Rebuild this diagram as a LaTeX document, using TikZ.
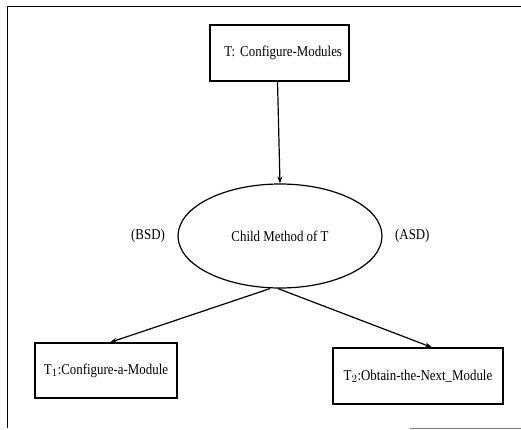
\documentclass[tikz,border=0pt]{standalone}
\usepackage{fontspec}
\setmainfont{Liberation Serif}[FakeStretch=0.86]
\usetikzlibrary{arrows.meta,positioning,shapes.geometric}
\tikzset{
    block/.style = {draw, rectangle, line width=1.2pt,
        minimum height=56pt, align=center, font=\fontsize{15}{17}\selectfont},
    method/.style = {draw, ellipse, line width=1.2pt,
        minimum width=204pt, minimum height=104pt, font=\fontsize{15}{17}\selectfont},
    tag/.style = {font=\fontsize{15}{17}\selectfont, node distance=9pt},
    arrow/.style = {draw, line width=1.2pt, -{Stealth[length=7pt,width=5pt]}}
}
\begin{document}
\begin{tikzpicture}[x=1pt,y=-1pt]
    \useasboundingbox (0,0) rectangle (521,430);
    % frame of the scanned figure
    \draw[line width=1pt] (7,428) -- (7,7) -- (521,7);
    \draw[line width=0.8pt,gray] (410,428) -- (521,428);
    % nodes
    \node [block, minimum width=139pt, text width=125pt, align=right] (task) at (279.5,53) {T: Configure-Modules};
    \node [method] (child) at (280,236) {Child Method of T};
    \node [tag, left=of child] (bsd) {(BSD)};
    \node [tag, right=of child] (asd) {(ASD)};
    \node [block, minimum width=142pt, minimum height=55pt] (conf) at (106,370.5) {T$_1$:Configure-a-Module};
    \node [block, minimum width=170pt] (next) at (418,376) {T$_2$:Obtain-the-Next\_Module};
    % connectors
    \draw [arrow] ([xshift=-2pt]task.south) -- (child.north);
    \draw [arrow] ([xshift=-10pt]child.south) -- ([xshift=4pt]conf.north);
    \draw [arrow] ([xshift=-2pt]child.south) -- ([xshift=14pt]next.north);
\end{tikzpicture}
\end{document}
